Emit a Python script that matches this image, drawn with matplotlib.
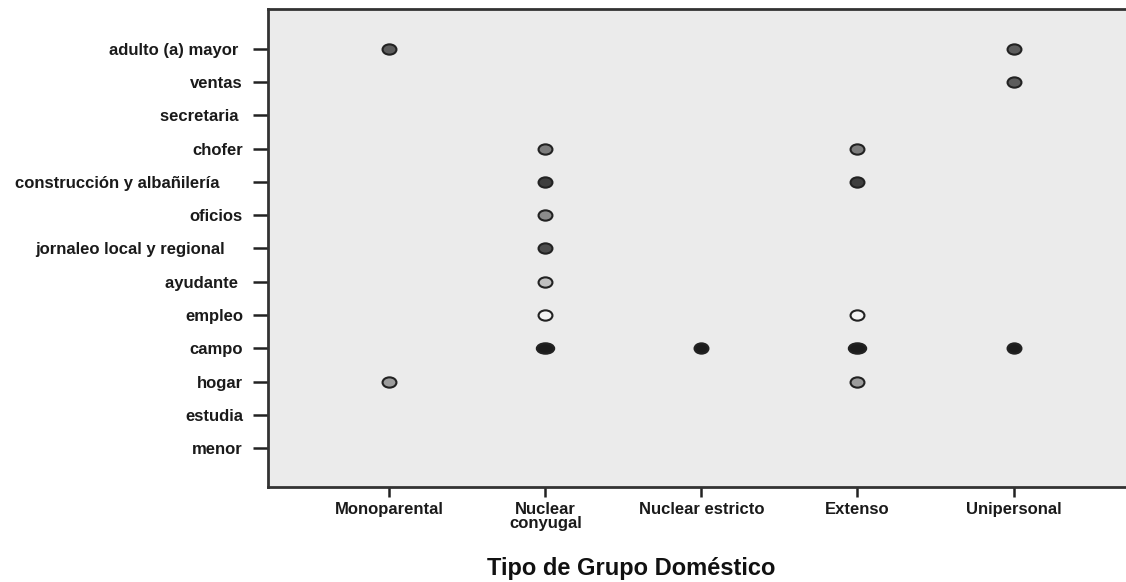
import numpy as np
import matplotlib
matplotlib.use("Agg")
import matplotlib.pyplot as plt
from matplotlib.path import Path
from matplotlib.markers import MarkerStyle

plt.rcParams['font.family'] = ['Liberation Sans', 'DejaVu Sans']

# ocupaciones, de abajo hacia arriba
ocupaciones = ["menor", "estudia", "hogar", "campo", "empleo", "ayudante ",
               "jornaleo local y regional    ", "oficios",
               "construcción y albañilería     ", "chofer", "secretaria ",
               "ventas", "adulto (a) mayor "]
grupos = ["Monoparental", "Nuclear\nconyugal", "Nuclear estricto",
          "Extenso", "Unipersonal"]

# puntos observados: ocupacion (indice), grupo (indice), tono de gris
pt_ocup = [12, 12, 11,
           9, 9,
           8, 8,
           7, 6, 5,
           4, 4,
           3, 3, 3, 3,
           2, 2]
pt_grupo = [0, 4, 4,
            1, 3,
            1, 3,
            1, 1, 1,
            1, 3,
            1, 2, 3, 4,
            0, 3]
pt_tono = ["#5c5c5c", "#5c5c5c", "#5c5c5c",
           "#7c7c7c", "#7c7c7c",
           "#3e3e3e", "#3e3e3e",
           "#8c8c8c", "#4c4c4c", "#c0c0c0",
           "#f2f2f2", "#f2f2f2",
           "#1c1c1c", "#1c1c1c", "#1c1c1c", "#1c1c1c",
           "#9c9c9c", "#9c9c9c"]


def elipse(alto):
    c = Path.unit_circle()
    return Path(c.vertices * np.array([1.0, alto]), c.codes)


fig = plt.figure(figsize=(11.26, 5.82), dpi=100)
ax = fig.add_axes([268 / 1126, 1 - 487 / 582, 1 - 268 / 1126, (487 - 9) / 582])
ax.set_facecolor("#ebebeb")

for y, g, t in zip(pt_ocup, pt_grupo, pt_tono):
    # en "campo" los puntos de nuclear conyugal y extenso se ven mas anchos
    if y == 3 and g in (1, 3):
        mk, ms = MarkerStyle(elipse(0.6)), 12.5
    else:
        mk, ms = MarkerStyle(elipse(0.74)), 10
    ax.plot(g, y, marker=mk, markersize=ms, markerfacecolor=t,
            markeredgecolor="#222222", markeredgewidth=1.5, linestyle="none")

ax.set_xlim(-0.776, 4.72)
ax.set_ylim(-1.17, 13.2)

ax.set_yticks(range(len(ocupaciones)))
ax.set_yticklabels(ocupaciones, fontsize=12, fontweight="bold", color="#1a1a1a")
ax.set_xticks(range(len(grupos)))
ax.set_xticklabels(grupos, fontsize=12, fontweight="bold", color="#1a1a1a",
                   linespacing=0.9)

ax.tick_params(axis="y", length=11, width=1.8, color="#222222", pad=7)
ax.tick_params(axis="x", length=7, width=1.8, color="#222222", pad=4)

ax.spines["right"].set_visible(False)
for s in ["left", "top", "bottom"]:
    ax.spines[s].set_linewidth(2)
    ax.spines[s].set_color("#333333")

fig.text(631 / 1126, 1 - 568 / 582, "Tipo de Grupo Doméstico", ha="center",
         va="center", fontsize=17, fontweight="bold", color="#111111")

fig.savefig("out.png", dpi=100)
